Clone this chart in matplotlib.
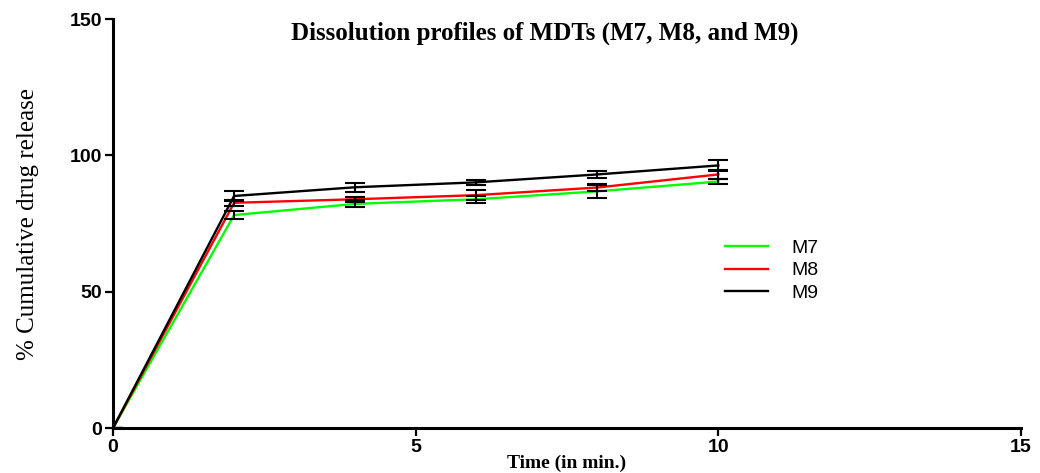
import matplotlib
matplotlib.use('Agg')
import matplotlib.pyplot as plt

# time points (min)
time = [0, 2, 4, 6, 8, 10]

# % cumulative drug release and SD
m7 = [0, 78.1, 82.2, 83.9, 86.8, 90.4]
m7_err = [0, 1.4, 1.3, 1.3, 2.3, 1.0]
m8 = [0, 82.6, 83.9, 85.4, 88.2, 93.0]
m8_err = [0, 1.0, 1.0, 1.9, 1.3, 1.5]
m9 = [0, 85.1, 88.3, 90.1, 93.0, 96.3]
m9_err = [0, 2.0, 1.6, 0.8, 1.3, 2.0]

labels = ['M7', 'M8', 'M9']
colors = ['#00ff00', '#ff0000', '#000000']

fig = plt.figure(figsize=(10.4, 4.73), dpi=100)
ax = fig.add_axes([0.1087, 0.0951, 0.873, 0.8647])

series = [(m7, m7_err), (m8, m8_err), (m9, m9_err)]
for (vals, err), lab, col in zip(series, labels, colors):
    ax.plot(time, vals, color=col, linewidth=1.7, label=lab, zorder=3)
    ax.errorbar(time, vals, yerr=err, fmt='none', ecolor='black',
                elinewidth=1.5, capsize=7, capthick=1.5, zorder=4)

ax.set_xlim(0, 15)
ax.set_ylim(0, 150)
ax.set_xticks([0, 5, 10, 15])
ax.set_yticks([0, 50, 100, 150])

for side in ['top', 'right']:
    ax.spines[side].set_visible(False)
for side in ['left', 'bottom']:
    ax.spines[side].set_linewidth(2.2)

ax.tick_params(width=1.6, length=6, direction='out', pad=2)
for t in ax.get_xticklabels() + ax.get_yticklabels():
    t.set_fontfamily('Liberation Sans')
    t.set_fontweight('bold')
    t.set_fontsize(14)

ax.set_xlabel('Time (in min.)', fontfamily='Liberation Serif',
              fontweight='bold', fontsize=14)
ax.xaxis.set_label_coords(0.5, -0.066)
ax.set_ylabel('% Cumulative drug release', fontfamily='Liberation Serif',
              fontsize=18, labelpad=22)

fig.text(545 / 1040, 1 - 33 / 473, 'Dissolution profiles of MDTs (M7, M8, and M9)',
         fontfamily='Liberation Serif', fontweight='bold', fontsize=18,
         ha='center', va='center')

ax.legend(loc='center left', bbox_to_anchor=(0.655, 0.385), frameon=False,
          prop={'family': 'Liberation Sans', 'size': 14},
          handlelength=2.2, handletextpad=1.2, labelspacing=0.25)

fig.savefig('out.png', dpi=100)
